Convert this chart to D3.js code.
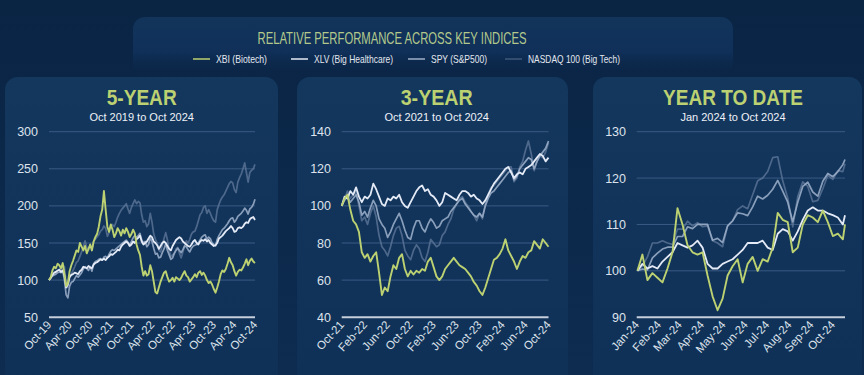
<!DOCTYPE html>
<html><head><meta charset="utf-8">
<script src="https://cdn.jsdelivr.net/npm/d3@7"></script>
<style>
html,body{margin:0;padding:0;background:#0b2748;}
svg{display:block}
</style></head>
<body>
<svg id="chart" width="864" height="375"></svg>
<script>
// ---------- DATA ----------
const seriesNames = ["XBI (Biotech)", "XLV (Big Healthcare)", "SPY (S&P500)", "NASDAQ 100 (Big Tech)"];

// 5-year panel: twice-monthly readings, Oct 2019 .. Oct 2024
const fiveYearTicks = ["Oct-19","Apr-20","Oct-20","Apr-21","Oct-21","Apr-22","Oct-22","Apr-23","Oct-23","Apr-24","Oct-24"];
const fiveYearYTicks = [50,100,150,200,250,300];
const fiveXBI = [100,104,113,118,116,122,120,116,123,108,
 92,96,112,120,126,133,140,138,150,145,
 140,146,136,142,148,140,152,158,162,172,
 186,195,220,195,172,165,175,168,158,163,
 170,166,160,168,163,170,165,158,162,168,
 163,148,140,134,118,106,112,106,108,120,
 112,98,84,82,90,98,104,110,112,104,
 98,100,103,98,104,102,100,103,108,112,
 106,104,98,101,104,108,104,110,112,107,
 110,106,100,96,98,94,88,83,90,98,
 108,113,111,115,122,130,124,120,112,106,
 111,114,113,117,122,128,120,126,129,125,
 123];
const fiveXLV = [100,103,107,110,111,113,114,111,113,106,
 90,94,104,107,108,110,109,108,112,114,
 118,117,116,119,117,116,121,123,124,126,
 128,127,129,127,130,132,135,134,136,138,
 141,140,145,148,150,152,150,146,148,152,
 150,155,157,160,152,148,150,152,156,160,
 158,152,150,147,142,146,150,152,150,146,
 142,140,146,150,154,156,158,156,152,150,
 148,146,145,148,152,154,150,148,152,154,
 153,155,152,154,150,148,146,147,150,156,
 158,160,163,166,168,170,173,170,165,166,
 170,171,170,172,176,178,177,182,184,185,
 181];
const fiveSPY = [100,103,106,107,108,110,111,110,113,100,
 80,76,92,97,98,102,106,104,107,110,
 115,118,116,113,118,112,122,125,126,128,
 129,127,131,132,130,135,139,141,140,142,
 144,146,148,150,152,154,151,147,152,157,
 160,157,160,163,154,150,152,145,148,157,
 152,143,135,136,130,131,137,142,149,140,
 134,128,130,136,140,143,140,137,141,146,
 145,141,138,143,146,147,148,150,154,158,
 160,161,155,158,156,150,148,146,155,160,
 164,168,170,173,176,180,183,184,178,181,
 186,188,190,193,197,194,189,196,198,202,
 209];
const fiveNDX = [100,103,105,107,109,112,115,113,120,118,
 96,90,104,108,113,118,124,126,132,138,
 145,153,144,140,148,140,152,155,158,161,
 166,168,173,170,159,164,174,175,172,178,
 185,190,194,197,200,203,196,190,198,203,
 208,203,206,204,188,178,180,172,176,190,
 178,162,155,150,140,138,147,156,164,154,
 140,132,134,136,142,144,136,130,138,146,
 153,150,155,162,165,166,172,180,188,191,
 198,200,190,195,190,184,180,178,195,202,
 208,212,215,220,225,230,233,231,222,218,
 232,238,243,250,258,245,232,245,248,250,
 256];

// 3-year panel: twice-monthly readings, Oct 2021 .. Oct 2024
const threeYearTicks = ["Oct-21","Feb-22","Jun-22","Oct-22","Feb-23","Jun-23","Oct-23","Feb-24","Jun-24","Oct-24"];
const threeYearYTicks = [40,60,80,100,120,140];
const threeXBI = [100,104,106,98,92,90,86,75,72,74,
 70,73,75,64,52,56,54,62,68,66,
 72,74,66,62,65,63,65,64,66,65,
 70,72,67,62,60,62,66,68,70,72,
 70,68,67,66,64,62,59,57,54,52,
 56,61,66,71,72,74,77,82,76,73,
 70,66,70,73,72,75,76,81,79,77,
 82,80,78];
const threeXLV = [100,105,104,108,106,110,105,102,105,104,
 106,112,109,105,101,100,104,103,105,104,
 106,102,100,99,102,105,108,110,111,108,
 109,106,105,103,100,102,107,106,105,104,
 103,106,108,108,107,105,106,104,103,101,
 103,106,109,112,114,116,118,120,121,118,
 115,117,118,117,120,121,122,124,126,128,
 127,124,126];
const threeSPY = [100,103,105,102,104,106,102,95,97,94,
 99,103,100,93,90,88,83,86,90,93,
 96,92,87,83,82,88,92,92,88,86,
 90,93,91,88,89,92,93,94,97,99,
 101,103,104,101,99,97,95,94,96,94,
 100,104,107,108,110,112,114,116,118,119,
 114,116,120,122,124,126,125,120,124,127,
 129,131,135];
const threeNDX = [100,104,108,104,106,108,100,92,94,90,
 96,100,94,84,78,76,73,78,84,88,
 89,84,76,73,71,76,79,77,72,70,
 75,82,80,78,79,84,86,90,93,98,
 101,104,105,102,100,97,95,92,96,93,
 101,106,110,111,113,115,117,119,121,121,
 113,115,121,124,130,135,128,119,124,127,
 126,129,134];

// Year to date panel: weekly readings, Jan 2024 .. Oct 2024
const ytdTicks = ["Jan-24","Feb-24","Mar-24","Apr-24","May-24","Jun-24","Jul-24","Aug-24","Sep-24","Oct-24"];
const ytdYTicks = [90,100,110,120,130];
const ytdDates = ["2024-01-02","2024-01-09","2024-01-16","2024-01-23","2024-01-30","2024-02-06","2024-02-13","2024-02-20","2024-02-27","2024-03-05",
 "2024-03-12","2024-03-19","2024-03-26","2024-04-02","2024-04-09","2024-04-16","2024-04-23","2024-04-30","2024-05-07","2024-05-14",
 "2024-05-21","2024-05-28","2024-06-04","2024-06-11","2024-06-18","2024-06-25","2024-07-02","2024-07-09","2024-07-16","2024-07-23",
 "2024-07-30","2024-08-06","2024-08-13","2024-08-20","2024-08-27","2024-09-03","2024-09-10","2024-09-17","2024-09-24","2024-10-01",
 "2024-10-08","2024-10-15","2024-10-18"];
const ytdXBI = [100,103.5,98,99.5,98.5,97.5,100.5,104,113.5,110,
 105.5,104,103.5,104,99,94.5,91.5,94,99,101,
 102.5,97.5,101.5,103,100,102.5,102,105,112.5,111,
 110.5,104,105,110,112,111.5,110.5,113,110.5,107.5,
 108,106.8,110];
const ytdXLV = [100,101.5,100.5,101,100.5,102,103,104,106,105.5,
 105,105.5,106.5,105,101.5,100.5,100.5,101.5,102,102.5,
 103.5,104.5,106,106,106,106.5,105,104.5,108,109,
 108.5,106.5,108.5,111,113,113.7,113,113,112.4,112,
 111.5,110,112];
const ytdSPY = [100,100.4,100.2,102.8,103.8,104.7,105.1,105.1,107.4,107.4,
 109.5,109.1,110,110,110,106.6,107,106.1,109.7,110.8,
 112.5,112.3,111.9,113.8,116.1,115.5,116.3,117.6,119.5,117.2,
 114.8,110.6,114.8,118.2,119.1,117,116.1,119.3,121,120.3,
 121.4,122.9,124];
const ytdNDX = [100,101,103,106,106,106.5,106,105.7,109,109,
 110.7,109.7,110.4,109.5,109.7,106.5,106,105.2,109.7,110.7,
 113.2,114,113.4,116.4,119.4,120,121.4,124.4,124.6,119.4,
 115.7,109.5,116,119.2,118.2,114.9,115.2,117.7,120.6,119.7,
 121.6,121.4,123.1];

// ---------- STYLE ----------
const lineColors = ["#bcd171", "#e4eaf6", "#9fb1cb", "#61799b"];
const lineOpacity = [1, 1, 0.85, 0.75];
const lineWidths = [1.9, 1.8, 1.7, 1.7];
const legendColors = ["#bcd171", "#e4eaf6", "#9fb1cb", "#3e5878"];
const sans = "'Liberation Sans',Arial,sans-serif";
const titleGreen = "#bcd171";

const svg = d3.select("#chart");
const defs = svg.append("defs");
const bg = defs.append("linearGradient").attr("id","bg").attr("x1",0).attr("y1",0).attr("x2",0).attr("y2",1);
bg.append("stop").attr("offset","0%").attr("stop-color","#0a2444");
bg.append("stop").attr("offset","100%").attr("stop-color","#0d2c50");
const pg = defs.append("linearGradient").attr("id","panelG").attr("x1",0).attr("y1",0).attr("x2",0).attr("y2",1);
pg.append("stop").attr("offset","0%").attr("stop-color","#14375e");
pg.append("stop").attr("offset","100%").attr("stop-color","#0f3056");
const tg = defs.append("linearGradient").attr("id","titleG").attr("x1",0).attr("y1",0).attr("x2",0).attr("y2",1);
tg.append("stop").attr("offset","0%").attr("stop-color","#12345a");
tg.append("stop").attr("offset","60%").attr("stop-color","#10305a");
tg.append("stop").attr("offset","100%").attr("stop-color","#0b2748").attr("stop-opacity",0);

svg.append("rect").attr("width",864).attr("height",375).attr("fill","url(#bg)");

// title box
svg.append("rect").attr("x",133).attr("y",17).attr("width",600).attr("height",58).attr("rx",12).attr("fill","url(#titleG)");
svg.append("text").attr("x",392).attr("y",44).attr("text-anchor","middle")
  .attr("font-family",sans).attr("font-size",16.5).attr("fill","#b3c98c")
  .attr("textLength",269).attr("lengthAdjust","spacingAndGlyphs")
  .text("RELATIVE PERFORMANCE ACROSS KEY INDICES");

// legend
const legendX = [193, 291, 408, 505];
const legendW = [51, 79, 56, 92];
const legend = svg.append("g");
seriesNames.forEach((name, i) => {
  legend.append("line").attr("x1",legendX[i]).attr("x2",legendX[i]+17).attr("y1",59).attr("y2",59)
    .attr("stroke",legendColors[i]).attr("stroke-width",1.5);
  legend.append("text").attr("x",legendX[i]+23).attr("y",63)
    .attr("font-family",sans).attr("font-size",11.5).attr("fill","#e3e8f0")
    .attr("textLength",legendW[i]).attr("lengthAdjust","spacingAndGlyphs").text(name);
});

// ---------- PANELS ----------
const panels = [
  {title:"5-YEAR", tw:70, sub:"Oct 2019 to Oct 2024", px:5, pw:273, cx:141.7, x0:49, x1:255, yDomain:[50,300], yTicks:fiveYearYTicks,
   labelX:38, series:[fiveXBI,fiveXLV,fiveSPY,fiveNDX], ticks:fiveYearTicks, tickStep:12, type:"index"},
  {title:"3-YEAR", tw:72, sub:"Oct 2021 to Oct 2024", px:297, pw:271, cx:436.7, x0:341.7, x1:548.5, yDomain:[40,140], yTicks:threeYearYTicks,
   labelX:331, series:[threeXBI,threeXLV,threeSPY,threeNDX], ticks:threeYearTicks, tickStep:8, type:"index"},
  {title:"YEAR TO DATE", tw:140, sub:"Jan 2024 to Oct 2024", px:593, pw:269, cx:733, x0:636.7, x1:845, yDomain:[90,130], yTicks:ytdYTicks,
   labelX:626, series:[ytdXBI,ytdXLV,ytdSPY,ytdNDX], ticks:ytdTicks, type:"time"}
];

const yTop = 131.7, yBot = 317.2;
const parse = d3.timeParse("%Y-%m-%d");

panels.forEach(p => {
  const g = svg.append("g");
  g.append("rect").attr("x",p.px).attr("y",77).attr("width",p.pw).attr("height",330).attr("rx",13).attr("fill","url(#panelG)");
  g.append("text").attr("x",p.cx).attr("y",105).attr("text-anchor","middle")
    .attr("font-family",sans).attr("font-weight","bold").attr("font-size",21.5).attr("fill",titleGreen)
    .attr("textLength",p.tw).attr("lengthAdjust","spacingAndGlyphs").text(p.title);
  g.append("text").attr("x",p.cx).attr("y",120.5).attr("text-anchor","middle")
    .attr("font-family",sans).attr("font-size",11).attr("fill","#eef2f8").text(p.sub);

  const y = d3.scaleLinear().domain(p.yDomain).range([yBot, yTop]);
  let x, xs, tickPos;
  if (p.type === "index") {
    const n = p.series[0].length;
    x = d3.scaleLinear().domain([0, n-1]).range([p.x0, p.x1]);
    xs = d3.range(n);
    tickPos = p.ticks.map((t,i) => x(i*p.tickStep));
  } else {
    const dates = ytdDates.map(parse);
    x = d3.scaleTime().domain([parse("2024-01-01"), parse("2024-10-18")]).range([p.x0, p.x1]);
    xs = dates;
    tickPos = d3.timeMonth.range(parse("2024-01-01"), parse("2024-10-02")).map(d => x(d));
  }

  // grid
  p.yTicks.forEach((v, i) => {
    const isBase = i === 0;
    g.append("line").attr("x1",p.x0).attr("x2",p.x1).attr("y1",y(v)).attr("y2",y(v))
      .attr("stroke", isBase ? "#c5cedb" : "#3a5b84").attr("stroke-width", isBase ? 2 : 1);
    g.append("text").attr("x",p.labelX).attr("y",y(v)+4.5).attr("text-anchor","end")
      .attr("font-family",sans).attr("font-size",12.5).attr("fill","#dde3ec").text(v);
  });

  // x tick labels
  p.ticks.forEach((t,i) => {
    const tx = tickPos[i] + 3, ty = yBot + 8;
    g.append("text").attr("transform",`translate(${tx},${ty}) rotate(-48)`).attr("text-anchor","end")
      .attr("font-family",sans).attr("font-size",11.5).attr("fill","#dde3ec").text(t);
  });

  // lines, back to front
  const clipId = "clip" + p.px;
  defs.append("clipPath").attr("id",clipId).append("rect").attr("x",p.x0-2).attr("y",yTop-20).attr("width",p.x1-p.x0+4).attr("height",yBot-yTop+20);
  const lg = g.append("g").attr("clip-path",`url(#${clipId})`);
  [3,2,1,0].forEach(si => {
    const vals = p.series[si];
    const line = d3.line().x((d,i) => x(xs[i])).y(d => y(d));
    lg.append("path").attr("d", line(vals)).attr("fill","none")
      .attr("stroke",lineColors[si]).attr("stroke-opacity",lineOpacity[si])
      .attr("stroke-width",lineWidths[si]).attr("stroke-linejoin","round");
  });
});
</script>
</body></html>
